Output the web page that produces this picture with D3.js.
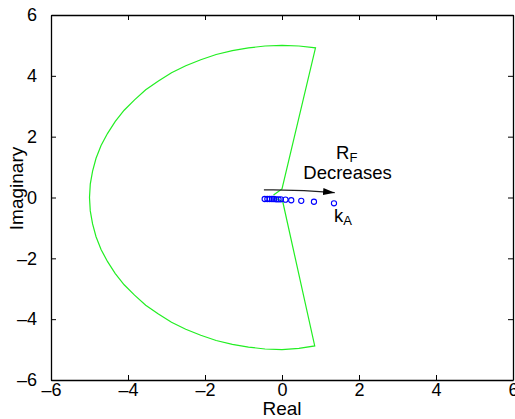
<!DOCTYPE html>
<html lang="en">
	<head>
		<meta charset="utf-8">
		<title>Root locus: R_F decreases</title>
		<script type="text/javascript" src="https://cdn.jsdelivr.net/npm/d3@7"></script>
		<style type="text/css">
			body {
				margin:0;
				background:#fff;
			}
			text {
				font-family:"Liberation Sans", Arial, sans-serif;
			}
		</style>
	</head>
	<body>
		<script type="text/javascript">

			//Width and height
			var w = 515;
			var h = 419;

			// axis ticks
			var xTicks = [-6, -4, -2, 0, 2, 4, 6];
			var yTicks = [-6, -4, -2, 0, 2, 4, 6];

			// green contour (real / imaginary)
			var contourRe = [-0.22, 0.0, 0.87, 0.44, 0.0, -0.44, -0.87, -1.29, -1.71, -2.11, -2.5, -2.87, -3.21, -3.54, -3.83,
			                 -4.10, -4.33, -4.53, -4.70, -4.83, -4.92, -4.98, -5.0,
			                 -4.98, -4.92, -4.83, -4.70, -4.53, -4.33, -4.10, -3.83, -3.54, -3.21, -2.87, -2.5, -2.11,
			                 -1.71, -1.29, -0.87, -0.44, 0.0, 0.44, 0.85, 0.02, -0.2];
			var contourIm = [0.08, 0.28, 4.92, 4.98, 5.0, 4.98, 4.92, 4.83, 4.70, 4.53, 4.33, 4.10, 3.83, 3.54, 3.21,
			                 2.87, 2.5, 2.11, 1.71, 1.29, 0.87, 0.44, 0.0,
			                 -0.44, -0.87, -1.29, -1.71, -2.11, -2.5, -2.87, -3.21, -3.54, -3.83, -4.10, -4.33, -4.53,
			                 -4.70, -4.83, -4.92, -4.98, -5.0, -4.96, -4.88, -0.14, 0.0];

			// blue poles as kA varies
			var poleRe = [-0.45, -0.38, -0.32, -0.26, -0.21, -0.15, -0.09, -0.03, 0.09, 0.24, 0.50, 0.83, 1.35];
			var poleIm = [-0.05, -0.05, -0.05, -0.05, -0.05, -0.06, -0.06, -0.06, -0.07, -0.09, -0.11, -0.14, -0.19];

			// arrow (start, end)
			var arrowRe = [-0.47, 1.37];
			var arrowIm = [0.25, 0.16];

			var margin = {left: 51, right: 2, top: 15, bottom: 39};

			var x = d3.scaleLinear().domain([-6, 6]).range([margin.left, w - margin.right]);
			var y = d3.scaleLinear().domain([-6, 6]).range([h - margin.bottom, margin.top]);

			var svg = d3.select("body")
						.append("svg")
						.attr("width", w)
						.attr("height", h);

			var fmt = function(d){ return d < 0 ? "\u2013" + Math.abs(d) : "" + d; };

			// axes, ticks inward on all sides
			var bottom = svg.append("g").attr("transform", "translate(0," + y(-6) + ")")
				.call(d3.axisBottom(x).tickValues(xTicks).tickSizeInner(-5).tickSizeOuter(0).tickPadding(3).tickFormat(fmt));
			var top = svg.append("g").attr("transform", "translate(0," + y(6) + ")")
				.call(d3.axisTop(x).tickValues(xTicks).tickSizeInner(-5).tickSizeOuter(0).tickFormat(""));
			var left = svg.append("g").attr("transform", "translate(" + x(-6) + ",0)")
				.call(d3.axisLeft(y).tickValues(yTicks).tickSizeInner(-5).tickSizeOuter(0).tickPadding(14).tickFormat(fmt));
			var right = svg.append("g").attr("transform", "translate(" + x(6) + ",0)")
				.call(d3.axisRight(y).tickValues(yTicks).tickSizeInner(-5).tickSizeOuter(0).tickFormat(""));

			svg.selectAll(".domain").attr("stroke", "#000").attr("stroke-width", 1.3);
			svg.selectAll(".tick line").attr("stroke", "#000");
			svg.selectAll(".tick text").attr("font-size", 18).attr("fill", "#000")
				.attr("font-family", "'Liberation Sans', Arial, sans-serif");

			// axis labels
			svg.append("text").attr("x", x(0)).attr("y", 415)
				.attr("text-anchor", "middle").attr("font-size", 19).text("Real");
			svg.append("text").attr("transform", "translate(23,188.5) rotate(-90)")
				.attr("text-anchor", "middle").attr("font-size", 19).text("Imaginary");

			// green contour
			var line = d3.line()
				.x(function(d){ return x(contourRe[d]); })
				.y(function(d){ return y(contourIm[d]); });
			svg.append("path")
				.attr("d", line(d3.range(contourRe.length)))
				.attr("fill", "none")
				.attr("stroke", "#22ee22")
				.attr("stroke-width", 1.2);

			// arrow
			svg.append("defs").append("marker")
				.attr("id", "head")
				.attr("viewBox", "0 0 10 6")
				.attr("refX", 10).attr("refY", 3)
				.attr("markerWidth", 12).attr("markerHeight", 7)
				.attr("markerUnits", "userSpaceOnUse")
				.attr("orient", "auto")
				.append("path").attr("d", "M0,0 L10,3 L0,6 Z").attr("fill", "#000");

			svg.append("path")
				.attr("d", "M" + x(arrowRe[0]) + "," + y(arrowIm[0]) +
					" Q" + x((arrowRe[0] + arrowRe[1]) / 2) + "," + (y(arrowIm[0]) - 0.5) +
					" " + x(arrowRe[1]) + "," + y(arrowIm[1]))
				.attr("fill", "none")
				.attr("stroke", "#222")
				.attr("stroke-width", 1.1)
				.attr("marker-end", "url(#head)");

			// blue poles
			svg.selectAll("circle")
				.data(d3.range(poleRe.length))
				.enter()
				.append("circle")
				.attr("cx", function(i){ return x(poleRe[i]); })
				.attr("cy", function(i){ return y(poleIm[i]); })
				.attr("r", 2.6)
				.attr("fill", "none")
				.attr("stroke", "#0000ff")
				.attr("stroke-width", 1.1);

			// annotations
			var rf = svg.append("text").attr("x", 336).attr("y", 159).attr("font-size", 18.5);
			rf.append("tspan").text("R");
			rf.append("tspan").attr("font-size", 13).attr("dy", 2.5).text("F");

			svg.append("text").attr("x", 347.5).attr("y", 179)
				.attr("text-anchor", "middle").attr("font-size", 18.5).text("Decreases");

			var ka = svg.append("text").attr("x", 334).attr("y", 222).attr("font-size", 18.5);
			ka.append("tspan").text("k");
			ka.append("tspan").attr("font-size", 13).attr("dy", 3).text("A");

	</script>
</body>
</html>
